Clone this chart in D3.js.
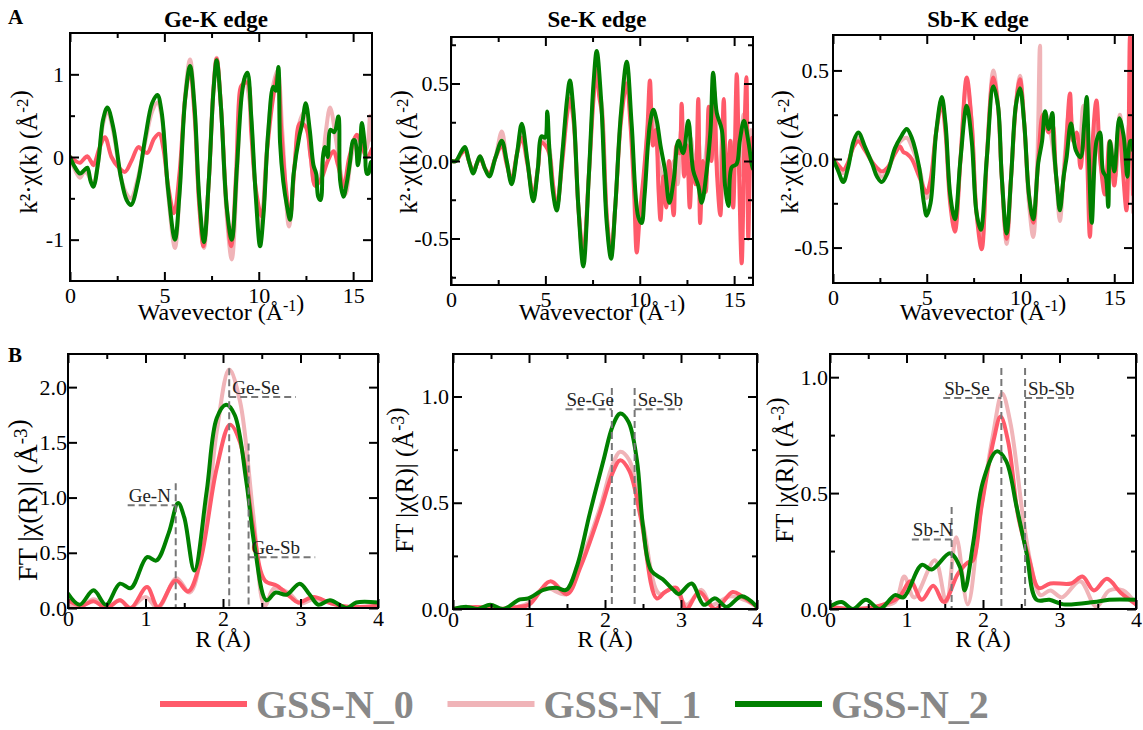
<!DOCTYPE html>
<html><head><meta charset="utf-8">
<script src="https://cdn.jsdelivr.net/npm/d3@7"></script>
<style>body{margin:0;background:#fff}svg{display:block}</style>
</head><body><svg id="c" width="1143" height="730"></svg>
<script>
// ---------------- DATA ----------------
const seriesNames = ["GSS-N_0", "GSS-N_1", "GSS-N_2"];
const seriesColors = ["#ff5a6a", "#f0b4b8", "#008000"];
const panelTitles = ["Ge-K edge", "Se-K edge", "Sb-K edge"];

// Ge-K edge k^2 chi(k)  [k, value]
const geK_N0 = [[0,0],[0.3,-0.05],[0.53,-0.07],[0.75,-0.02],[0.92,0.01],[1.1,-0.05],[1.24,-0.1],[1.55,0.1],[1.85,0.24],[2.2,0.0],[2.55,-0.12],[2.91,-0.18],[3.25,-0.05],[3.62,0.12],[3.85,0.08],[4.1,0.05],[4.45,0.22],[4.73,0.28],[4.95,0.1],[5.2,-0.35],[5.51,-0.68],[5.8,-0.2],[6.1,0.7],[6.36,1.05],[6.6,0.5],[6.85,-0.6],[7.07,-1.08],[7.35,-0.3],[7.6,0.8],[7.77,1.19],[8.0,0.6],[8.3,-0.6],[8.54,-1.08],[8.8,-0.2],[9.0,0.8],[9.1,0.87],[9.4,0.9],[9.6,0.3],[9.85,-0.4],[10.16,-0.72],[10.45,0.1],[10.75,0.7],[11.0,1.0],[11.2,0.3],[11.45,-0.4],[11.66,-0.72],[11.9,-0.1],[12.19,0.41],[12.5,0.36],[12.75,0.0],[13.0,-0.35],[13.34,-0.25],[13.65,-0.05],[13.96,0.07],[14.2,-0.1],[14.5,-0.35],[14.8,0.0],[15.2,0.27],[15.45,0.15],[15.72,0.0],[16,0.1]];
const geK_N1 = [[0,0],[0.25,-0.15],[0.53,-0.25],[0.75,-0.18],[0.92,-0.2],[1.1,-0.28],[1.24,-0.32],[1.5,-0.05],[1.75,0.4],[1.98,0.56],[2.3,0.3],[2.7,-0.25],[3.0,-0.45],[3.23,-0.5],[3.6,-0.25],[4.0,0.2],[4.35,0.55],[4.63,0.66],[4.85,0.5],[5.2,-0.45],[5.56,-1.1],[5.8,-0.45],[6.1,0.75],[6.36,1.18],[6.6,0.6],[6.85,-0.55],[7.1,-1.1],[7.35,-0.3],[7.6,0.85],[7.77,1.2],[8.0,0.6],[8.3,-0.7],[8.57,-1.24],[8.85,-0.2],[9.1,0.8],[9.27,0.95],[9.5,0.7],[9.8,-0.3],[10.1,-0.9],[10.4,0.0],[10.75,0.85],[11.0,1.05],[11.25,0.3],[11.6,-0.84],[11.9,-0.1],[12.2,0.45],[12.45,0.55],[12.75,0.0],[13.0,-0.35],[13.3,-0.2],[13.55,0.3],[13.78,0.6],[14.1,0.2],[14.35,-0.2],[14.6,-0.45],[14.9,0.0],[15.2,0.25],[15.5,0.1],[15.7,0.1],[15.9,0.5],[16,0.2]];
const geK_N2 = [[0,0],[0.25,-0.12],[0.53,-0.2],[0.75,-0.16],[0.92,-0.13],[1.1,-0.3],[1.24,-0.36],[1.5,-0.05],[1.75,0.45],[1.98,0.6],[2.3,0.35],[2.7,-0.25],[3.0,-0.52],[3.23,-0.58],[3.6,-0.3],[4.0,0.25],[4.35,0.65],[4.63,0.75],[4.85,0.55],[5.2,-0.4],[5.56,-1.0],[5.8,-0.45],[6.1,0.7],[6.36,1.1],[6.6,0.6],[6.85,-0.5],[7.1,-1.03],[7.35,-0.3],[7.6,0.8],[7.77,1.17],[8.0,0.6],[8.3,-0.6],[8.57,-1.0],[8.85,-0.1],[9.1,0.75],[9.27,0.97],[9.4,1.02],[9.6,0.5],[9.85,-0.5],[10.07,-1.08],[10.25,-0.7],[10.5,0.3],[10.77,0.85],[10.9,0.8],[11.04,1.09],[11.13,0.17],[11.3,-0.3],[11.5,-0.6],[11.66,-0.76],[11.85,-0.2],[12.15,0.25],[12.3,0.4],[12.49,0.65],[12.7,0.33],[12.9,-0.1],[13.04,-0.2],[13.15,-0.48],[13.28,-0.52],[13.4,0.0],[13.51,0.12],[13.65,0.0],[13.8,0.33],[14.0,0.3],[14.22,0.49],[14.31,-0.28],[14.49,-0.48],[14.66,-0.32],[14.84,-0.05],[15.0,0.2],[15.1,0.2],[15.25,-0.1],[15.37,0.1],[15.46,0.41],[15.63,0.12],[15.72,-0.2],[15.81,-0.2],[15.94,-0.06],[16,-0.1]];

// Se-K edge
const seK_N0 = [[0,0],[0.26,0],[0.5,0.04],[0.74,0.07],[0.95,0.0],[1.18,-0.07],[1.36,-0.02],[1.54,0.02],[1.8,-0.05],[2.03,-0.08],[2.35,0.02],[2.69,0.1],[2.95,-0.02],[3.21,-0.12],[3.5,0.05],[3.75,0.15],[4.05,-0.02],[4.36,-0.22],[4.6,-0.05],[4.8,0.12],[5.0,0.1],[5.2,0.05],[5.4,-0.15],[5.6,-0.3],[5.9,0.0],[6.15,0.3],[6.3,0.4],[6.5,0.25],[6.75,-0.3],[7.01,-0.6],[7.3,-0.1],[7.55,0.4],[7.72,0.6],[7.85,0.42],[8.0,0.3],[8.25,-0.35],[8.48,-0.6],[8.7,-0.3],[9.0,0.25],[9.31,0.5],[9.5,0.25],[9.7,-0.2],[9.84,-0.59],[10.0,-0.35],[10.2,-0.1],[10.4,0.2],[10.54,0.52],[10.7,0.1],[10.85,0.2],[11.0,-0.2],[11.1,-0.38],[11.25,-0.1],[11.4,-0.3],[11.55,0.0],[11.8,-0.35],[11.95,0.1],[12.1,0.05],[12.22,0.37],[12.35,-0.1],[12.5,0.1],[12.65,-0.3],[12.8,0.0],[12.95,-0.15],[13.1,0.4],[13.2,-0.4],[13.35,0.0],[13.5,-0.2],[13.65,0.35],[13.8,0.0],[13.95,0.45],[14.1,-0.1],[14.27,-0.35],[14.45,0.4],[14.6,-0.2],[14.8,0.13],[14.95,-0.3],[15.14,0.56],[15.25,0.0],[15.4,-0.66],[15.55,0.2],[15.65,0.54],[15.75,-0.5],[15.85,0.0],[15.95,0.15],[16,0.0]];
const seK_N1 = [[0,0],[0.26,0],[0.5,0.04],[0.74,0.08],[0.95,0.0],[1.18,-0.07],[1.36,-0.02],[1.54,0.03],[1.8,-0.05],[2.03,-0.09],[2.35,0.02],[2.69,0.19],[2.95,0.0],[3.21,-0.13],[3.5,0.05],[3.75,0.2],[4.05,0.0],[4.36,-0.24],[4.6,-0.05],[4.8,0.14],[5.0,0.12],[5.2,0.08],[5.4,-0.15],[5.6,-0.3],[5.9,0.05],[6.15,0.35],[6.3,0.47],[6.5,0.3],[6.75,-0.3],[7.01,-0.62],[7.3,-0.1],[7.55,0.45],[7.72,0.65],[7.85,0.45],[8.0,0.35],[8.25,-0.35],[8.48,-0.6],[8.7,-0.3],[9.0,0.3],[9.31,0.58],[9.55,0.2],[9.9,-0.38],[10.1,-0.3],[10.3,0.0],[10.55,0.3],[10.75,0.25],[11.0,0.0],[11.3,-0.15],[11.55,-0.25],[11.8,0.0],[12.0,-0.15],[12.2,0.2],[12.45,0.0],[12.7,0.15],[12.9,-0.1],[13.1,0.15],[13.3,-0.2],[13.55,0.1],[13.8,0.3],[14.0,0.1],[14.2,-0.15],[14.4,0.2],[14.6,-0.2],[14.85,0.05],[15.1,0.15],[15.3,-0.1],[15.5,0.3],[15.75,0.0],[15.9,0.2],[16,0.0]];
const seK_N2 = [[0,0],[0.26,0],[0.5,0.05],[0.74,0.09],[0.95,0.0],[1.18,-0.08],[1.36,-0.02],[1.54,0.03],[1.8,-0.05],[2.03,-0.1],[2.35,0.02],[2.69,0.13],[2.95,0.0],[3.21,-0.15],[3.5,0.05],[3.75,0.24],[4.05,0.0],[4.36,-0.26],[4.6,-0.05],[4.8,0.16],[4.98,0.15],[5.1,0.32],[5.2,0.1],[5.4,-0.2],[5.6,-0.32],[5.9,0.05],[6.15,0.4],[6.3,0.52],[6.5,0.3],[6.75,-0.3],[7.01,-0.68],[7.3,-0.1],[7.55,0.5],[7.72,0.71],[7.95,0.4],[8.25,-0.4],[8.48,-0.63],[8.7,-0.3],[9.0,0.3],[9.31,0.64],[9.57,0.24],[9.92,-0.36],[10.1,-0.4],[10.25,-0.23],[10.54,0.24],[10.72,0.33],[10.9,0.26],[11.1,0.1],[11.34,-0.06],[11.57,-0.27],[11.8,-0.12],[12.05,0.13],[12.3,0.05],[12.57,0.26],[12.83,-0.06],[13.1,-0.16],[13.28,-0.27],[13.55,-0.06],[13.75,0.2],[13.89,0.57],[14.08,0.31],[14.35,0.2],[14.52,-0.16],[14.7,-0.29],[14.87,-0.04],[15.13,-0.02],[15.3,0.13],[15.52,0.26],[15.75,0.13],[15.93,-0.02],[16,-0.05]];

// Sb-K edge
const sbK_N0 = [[0,0],[0.25,-0.03],[0.55,-0.06],[0.8,-0.02],[1.1,0.07],[1.35,0.1],[1.7,0.05],[2.1,-0.02],[2.35,-0.05],[2.6,-0.07],[2.9,-0.05],[3.3,0.03],[3.57,0.07],[3.75,0.04],[3.93,0.03],[4.2,0.0],[4.6,-0.1],[4.99,-0.19],[5.2,-0.12],[5.5,0.15],[5.8,0.31],[6.0,0.15],[6.25,-0.25],[6.5,-0.41],[6.8,0.0],[7.13,0.46],[7.4,0.2],[7.65,-0.3],[7.93,-0.51],[8.2,0.0],[8.55,0.46],[8.8,0.3],[9.0,-0.1],[9.26,-0.45],[9.5,-0.1],[9.75,0.3],[9.97,0.45],[10.2,0.2],[10.45,-0.2],[10.68,-0.36],[10.95,0.0],[11.2,0.25],[11.5,0.15],[11.7,0.2],[11.9,-0.1],[12.1,-0.25],[12.35,-0.05],[12.64,0.37],[12.8,0.1],[13.0,0.15],[13.2,-0.05],[13.45,0.2],[13.7,-0.44],[13.85,0.1],[14.05,0.33],[14.25,0.0],[14.5,-0.2],[14.75,0.1],[15.0,-0.15],[15.25,0.2],[15.45,-0.05],[15.65,-0.29],[15.75,0.0],[15.84,0.69],[15.95,0.3],[16,-0.2]];
const sbK_N1 = [[0,0],[0.25,-0.04],[0.55,-0.08],[0.8,-0.03],[1.1,0.08],[1.35,0.12],[1.7,0.06],[2.1,-0.02],[2.35,-0.07],[2.6,-0.1],[2.9,-0.07],[3.3,0.04],[3.6,0.1],[3.93,0.12],[4.2,0.07],[4.6,-0.05],[4.99,-0.22],[5.2,-0.15],[5.5,0.15],[5.8,0.33],[6.0,0.18],[6.25,-0.22],[6.5,-0.38],[6.8,0.0],[7.13,0.43],[7.4,0.2],[7.65,-0.3],[7.93,-0.47],[8.2,0.0],[8.55,0.5],[8.8,0.3],[9.0,-0.1],[9.26,-0.48],[9.5,-0.1],[9.75,0.3],[9.97,0.47],[10.2,0.2],[10.45,-0.25],[10.68,-0.44],[10.9,0.0],[11.04,0.64],[11.15,0.2],[11.35,0.25],[11.6,0.15],[11.9,-0.1],[12.1,-0.35],[12.35,0.0],[12.64,0.3],[12.85,0.1],[13.1,0.05],[13.35,0.3],[13.6,0.0],[13.8,-0.3],[14.05,0.2],[14.3,-0.05],[14.55,-0.2],[14.8,0.1],[15.05,-0.1],[15.3,0.25],[15.55,0.0],[15.8,0.2],[16,-0.3]];
const sbK_N2 = [[0,0],[0.25,-0.06],[0.55,-0.13],[0.8,-0.05],[1.1,0.1],[1.35,0.15],[1.7,0.07],[2.1,-0.03],[2.35,-0.1],[2.6,-0.13],[2.9,-0.08],[3.3,0.06],[3.65,0.13],[3.93,0.17],[4.2,0.12],[4.6,-0.05],[4.85,-0.25],[4.99,-0.32],[5.2,-0.25],[5.5,0.15],[5.8,0.35],[6.0,0.2],[6.25,-0.2],[6.5,-0.34],[6.8,0.0],[7.13,0.3],[7.4,0.1],[7.65,-0.3],[7.88,-0.4],[8.2,0.0],[8.55,0.41],[8.8,0.3],[9.0,-0.1],[9.26,-0.42],[9.5,-0.1],[9.75,0.3],[9.97,0.4],[10.2,0.2],[10.45,-0.2],[10.68,-0.34],[10.95,-0.02],[11.15,0.1],[11.31,0.27],[11.5,0.17],[11.7,0.26],[11.76,0.1],[11.95,-0.15],[12.1,-0.29],[12.3,-0.1],[12.46,0.01],[12.69,0.2],[12.95,0.05],[13.2,0.01],[13.4,0.2],[13.53,0.35],[13.65,0.0],[13.8,-0.36],[14.05,0.1],[14.24,0.15],[14.4,-0.07],[14.55,-0.1],[14.68,-0.27],[14.77,0.1],[15.0,-0.07],[15.27,0.23],[15.5,0.13],[15.7,-0.1],[15.85,0.1],[15.95,0.1],[16,0.05]];

// Fourier transforms |chi(R)|  [R, value]
const geFT_N0 = [[0,0.07],[0.17,0.02],[0.33,0.06],[0.5,0.0],[0.67,0.07],[0.81,0.0],[1.02,0.19],[1.16,0.01],[1.39,0.25],[1.55,0.15],[1.7,0.4],[1.92,1.27],[2.09,1.66],[2.22,1.5],[2.39,0.73],[2.54,0.25],[2.7,0.2],[2.87,0.1],[2.97,0.05],[3.17,0.1],[3.4,0.04],[3.65,0.01],[4,0.02]];
const geFT_N1 = [[0,0.04],[0.15,0.0],[0.33,0.08],[0.5,0.01],[0.67,0.07],[0.8,0.0],[1.0,0.1],[1.16,0.0],[1.4,0.27],[1.57,0.14],[1.75,0.61],[1.92,1.6],[2.08,2.16],[2.22,1.87],[2.39,0.85],[2.54,0.02],[2.66,0.18],[2.84,0.14],[3.0,0.04],[3.17,0.08],[3.4,0.05],[3.65,0.0],[4,0.02]];
const geFT_N2 = [[0,0.13],[0.15,0.03],[0.33,0.16],[0.49,0.03],[0.67,0.22],[0.81,0.18],[1.02,0.46],[1.14,0.43],[1.3,0.68],[1.42,0.95],[1.5,0.82],[1.63,0.34],[1.79,1.06],[1.92,1.72],[2.04,1.84],[2.15,1.75],[2.3,1.15],[2.41,0.55],[2.56,0.07],[2.68,0.14],[2.82,0.12],[2.99,0.22],[3.12,0.12],[3.23,0.03],[3.38,0.07],[3.6,0.0],[3.72,0.05],[4,0.05]];
const seFT_N0 = [[0,0.0],[0.3,0.01],[0.6,0.0],[0.85,0.01],[1.0,0.02],[1.28,0.13],[1.5,0.07],[1.68,0.2],[1.93,0.45],[2.1,0.64],[2.2,0.7],[2.32,0.65],[2.47,0.43],[2.68,0.05],[2.79,0.08],[2.94,0.1],[3.07,0.0],[3.24,0.08],[3.45,0.0],[3.68,0.08],[3.8,0.06],[4,0.01]];
const seFT_N1 = [[0,0.0],[0.3,0.01],[0.6,0.0],[0.85,0.01],[1.0,0.03],[1.2,0.1],[1.5,0.07],[1.68,0.22],[1.93,0.47],[2.1,0.68],[2.2,0.74],[2.32,0.7],[2.5,0.4],[2.72,0.07],[2.9,0.1],[3.07,0.02],[3.27,0.09],[3.4,0.02],[3.65,0.06],[3.85,0.04],[4,0.01]];
const seFT_N2 = [[0,0.0],[0.18,0.01],[0.33,0.0],[0.49,0.02],[0.66,0.0],[0.88,0.045],[0.99,0.05],[1.19,0.09],[1.36,0.1],[1.49,0.09],[1.63,0.2],[1.8,0.45],[1.98,0.7],[2.1,0.86],[2.2,0.92],[2.31,0.88],[2.42,0.7],[2.5,0.39],[2.61,0.18],[2.76,0.14],[2.9,0.09],[2.97,0.07],[3.14,0.12],[3.3,0.02],[3.45,0.05],[3.6,0.01],[3.8,0.06],[4,0.01]];
const sbFT_N0 = [[0,0.01],[0.3,0.0],[0.6,0.01],[0.9,0.05],[1.05,0.12],[1.2,0.04],[1.35,0.1],[1.49,0.03],[1.67,0.15],[1.8,0.2],[1.87,0.21],[1.98,0.44],[2.14,0.73],[2.23,0.83],[2.33,0.72],[2.46,0.4],[2.6,0.22],[2.73,0.09],[2.88,0.11],[3.15,0.11],[3.3,0.14],[3.45,0.08],[3.62,0.13],[3.8,0.07],[4,0.02]];
const sbFT_N1 = [[0,0.01],[0.3,0.0],[0.6,0.01],[0.85,0.03],[0.97,0.14],[1.1,0.05],[1.37,0.21],[1.52,0.03],[1.65,0.31],[1.8,0.02],[1.96,0.4],[2.13,0.75],[2.25,0.93],[2.36,0.8],[2.53,0.38],[2.64,0.17],[2.75,0.06],[2.88,0.08],[3.03,0.05],[3.27,0.12],[3.48,0.01],[3.65,0.08],[3.83,0.08],[4,0.02]];
const sbFT_N2 = [[0,0.01],[0.15,0.03],[0.3,0.0],[0.47,0.04],[0.65,0.0],[0.85,0.06],[0.96,0.05],[1.2,0.19],[1.33,0.17],[1.57,0.24],[1.7,0.18],[1.76,0.08],[1.87,0.28],[2.0,0.55],[2.18,0.68],[2.3,0.64],[2.44,0.44],[2.57,0.24],[2.7,0.04],[2.87,0.04],[3.05,0.02],[3.45,0.03],[3.65,0.04],[4,0.04]];

// axis ticks
const kTicksMajor = [0, 5, 10, 15];
const kTicksMinor = [2.5, 7.5, 12.5];
const rTicksMajor = [0, 1, 2, 3, 4];
const rTicksMinor = [0.5, 1.5, 2.5, 3.5];
const geKYMajor = [-1, 0, 1];
const geKYMinor = [-0.5, 0.5];
const seKYMajor = [-0.5, 0, 0.5];
const seKYMinor = [-0.75, -0.25, 0.25, 0.75];
const sbKYMajor = [-0.5, 0, 0.5];
const sbKYMinor = [-0.25, 0.25];
const geFTYMajor = [0, 0.5, 1, 1.5, 2];
const seFTYMajor = [0, 0.5, 1];
const seFTYMinor = [0.25, 0.75];
const sbFTYMajor = [0, 0.5, 1];
const sbFTYMinor = [0.25, 0.75];

// bond annotations: [label, R of marker line, top of marker, height of label line, R start, R end]
const geBonds = [["Ge-N", 1.39, 1.13, 0.93, 0.77, 1.39], ["Ge-Se", 2.08, 2.17, 1.91, 2.08, 2.94], ["Ge-Sb", 2.33, 1.49, 0.46, 2.33, 3.19]];
const seBonds = [["Se-Ge", 2.09, 1.04, 0.94, 1.48, 2.09], ["Se-Sb", 2.39, 1.04, 0.94, 2.39, 3.0]];
const sbBonds = [["Sb-N", 1.59, 0.44, 0.30, 1.07, 1.59], ["Sb-Se", 2.24, 1.04, 0.91, 1.48, 2.24], ["Sb-Sb", 2.55, 1.04, 0.91, 2.55, 3.18]];

// ---------------- DRAW ----------------
const svg = d3.select("#c");
const FONT = "'Liberation Serif','Times New Roman',serif";
let clipId = 0;

function addLabel(g, parts, attrs) {
  const t = g.append("text").attr("font-family", FONT);
  for (const k in attrs) t.attr(k, attrs[k]);
  parts.forEach(p => {
    if (p.sup) {
      t.append("tspan").attr("dy", -p.shift).attr("font-size", p.size).text(p.sup);
      t.append("tspan").attr("dy", p.shift).text("");
    } else t.append("tspan").text(p.t);
  });
  return t;
}

function panel(p) {
  const g = svg.append("g");
  const x = d3.scaleLinear().domain(p.xDomain).range([p.l, p.r]);
  const y = d3.scaleLinear().domain(p.yDomain).range([p.b, p.t]);
  const id = "clip" + (clipId++);
  svg.append("clipPath").attr("id", id).append("rect")
    .attr("x", p.l).attr("y", p.t).attr("width", p.r - p.l).attr("height", p.b - p.t);

  const line = d3.line().x(d => x(d[0])).y(d => y(d[1])).curve(d3.curveCatmullRom.alpha(0.5));
  const lg = g.append("g").attr("clip-path", `url(#${id})`);
  [1, 0, 2].forEach(i => {
    lg.append("path").datum(p.series[i]).attr("d", line)
      .attr("fill", "none").attr("stroke", seriesColors[i]).attr("stroke-width", 4)
      .attr("stroke-linejoin", "round").attr("stroke-linecap", "round");
  });

  if (p.bonds) {
    const ag = g.append("g");
    p.bonds.forEach(b => {
      ag.append("line").attr("x1", x(b[1])).attr("x2", x(b[1])).attr("y1", y(b[2])).attr("y2", y(0))
        .attr("stroke", "#777").attr("stroke-width", 2).attr("stroke-dasharray", "7,4");
      ag.append("line").attr("x1", x(b[4])).attr("x2", x(b[5])).attr("y1", y(b[3])).attr("y2", y(b[3]))
        .attr("stroke", "#777").attr("stroke-width", 2).attr("stroke-dasharray", "7,4");
      const right = b[4] >= b[1] - 1e-9;
      ag.append("text").attr("font-family", FONT).attr("font-size", 19).attr("fill", "#222")
        .attr("x", right ? x(b[4]) + 3 : x(b[4]) + 1).attr("y", y(b[3]) - 3).text(b[0]);
    });
  }

  g.append("rect").attr("x", p.l).attr("y", p.t).attr("width", p.r - p.l).attr("height", p.b - p.t)
    .attr("fill", "none").attr("stroke", "#000").attr("stroke-width", 2);

  const styleAxis = (sel) => { sel.attr("font-family", FONT); sel.select(".domain").remove(); sel.selectAll("line").attr("stroke", "#000").attr("stroke-width", 2); sel.selectAll("text").attr("font-family", FONT).attr("font-size", p.tickFont).attr("fill", "#000"); };
  const fmtX = d => d.toFixed(p.xDec);
  const fmtY = d => d.toFixed(p.yDec);

  g.append("g").attr("transform", `translate(0,${p.b})`)
    .call(d3.axisBottom(x).tickValues(p.xMajor).tickSize(-9).tickPadding(p.xPad).tickFormat(fmtX)).call(styleAxis);
  g.append("g").attr("transform", `translate(0,${p.b})`)
    .call(d3.axisBottom(x).tickValues(p.xMinor).tickSize(-5).tickFormat("")).call(styleAxis);
  g.append("g").attr("transform", `translate(0,${p.t})`)
    .call(d3.axisTop(x).tickValues(p.xMajor).tickSize(-9).tickFormat("")).call(styleAxis);
  g.append("g").attr("transform", `translate(0,${p.t})`)
    .call(d3.axisTop(x).tickValues(p.xMinor).tickSize(-5).tickFormat("")).call(styleAxis);
  g.append("g").attr("transform", `translate(${p.l},0)`)
    .call(d3.axisLeft(y).tickValues(p.yMajor).tickSize(-9).tickPadding(p.yPad).tickFormat(fmtY)).call(styleAxis);
  g.append("g").attr("transform", `translate(${p.r},0)`)
    .call(d3.axisRight(y).tickValues(p.yMajor).tickSize(-9).tickFormat("")).call(styleAxis);
  if (p.yMinor.length) {
    g.append("g").attr("transform", `translate(${p.l},0)`)
      .call(d3.axisLeft(y).tickValues(p.yMinor).tickSize(-5).tickFormat("")).call(styleAxis);
    g.append("g").attr("transform", `translate(${p.r},0)`)
      .call(d3.axisRight(y).tickValues(p.yMinor).tickSize(-5).tickFormat("")).call(styleAxis);
  }

  addLabel(g, p.xLabel, { "x": (p.l + p.r) / 2, "y": p.xLabelY, "text-anchor": "middle", "font-size": p.xLabelFont, "fill": "#000" });
  addLabel(g, p.yLabel, { "transform": `translate(${p.yLabelX},${p.yLabelY}) rotate(-90)`, "text-anchor": "middle", "dy": "0.35em", "font-size": p.yLabelFont, "fill": "#000" });
  if (p.title) {
    g.append("text").attr("font-family", FONT).attr("font-weight", "bold").attr("font-size", 23)
      .attr("x", (p.l + p.r) / 2 - 5).attr("y", 27).attr("text-anchor", "middle").text(p.title);
  }
}

const kLabel = [{ t: "Wavevector (Å" }, { sup: "-1", size: 16, shift: 9 }, { t: ")" }];
const rLabel = [{ t: "R (Å)" }];
const kyLabel = [{ t: "k²·χ(k) (Å" }, { sup: "-2", size: 17, shift: 9 }, { t: ")" }];
const ryLabelBig = [{ t: "FT |χ(R)| (Å" }, { sup: "-3", size: 19, shift: 10 }, { t: ")" }];
const ryLabel = [{ t: "FT |χ(R)| (Å" }, { sup: "-3", size: 18, shift: 9 }, { t: ")" }];

const topCommon = { xDomain: [0, 16], xMajor: kTicksMajor, xMinor: kTicksMinor, xDec: 0, xPad: 6, tickFont: 22, xLabel: kLabel, xLabelY: 320, xLabelFont: 24, yLabel: kyLabel, yLabelFont: 25, yLabelY: 152 };
const botCommon = { xDomain: [0, 4], xMajor: rTicksMajor, xMinor: rTicksMinor, xDec: 0, xPad: 2, tickFont: 22, xLabel: rLabel, xLabelY: 647, xLabelFont: 24, yDec: 1 };

panel(Object.assign({}, topCommon, { l: 70, r: 372, t: 33, b: 281, yDomain: [-1.5, 1.5], yMajor: geKYMajor, yMinor: geKYMinor, yDec: 0, yPad: 6, series: [geK_N0, geK_N1, geK_N2], yLabelX: 28, title: panelTitles[0] }));
panel(Object.assign({}, topCommon, { l: 451, r: 753, t: 37, b: 285, yDomain: [-0.8, 0.8], yMajor: seKYMajor, yMinor: seKYMinor, yDec: 1, yPad: 2, series: [seK_N0, seK_N1, seK_N2], yLabelX: 408, title: panelTitles[1] }));
panel(Object.assign({}, topCommon, { l: 833, r: 1133, t: 35, b: 283, yDomain: [-0.7, 0.7], yMajor: sbKYMajor, yMinor: sbKYMinor, yDec: 1, yPad: 4, series: [sbK_N0, sbK_N1, sbK_N2], yLabelX: 789, title: panelTitles[2] }));

panel(Object.assign({}, botCommon, { l: 68, r: 378, t: 354, b: 608, yDomain: [0, 2.3], yMajor: geFTYMajor, yMinor: [], yPad: 1, series: [geFT_N0, geFT_N1, geFT_N2], yLabel: ryLabelBig, yLabelFont: 28, yLabelX: 27, yLabelY: 500, bonds: geBonds }));
panel(Object.assign({}, botCommon, { l: 453, r: 757, t: 354, b: 609, yDomain: [0, 1.2], yMajor: seFTYMajor, yMinor: seFTYMinor, yPad: 4, series: [seFT_N0, seFT_N1, seFT_N2], yLabel: ryLabel, yLabelFont: 25, yLabelX: 404, yLabelY: 480, bonds: seBonds }));
panel(Object.assign({}, botCommon, { l: 830, r: 1136, t: 354, b: 609, yDomain: [0, 1.1], yMajor: sbFTYMajor, yMinor: sbFTYMinor, yPad: 2, series: [sbFT_N0, sbFT_N1, sbFT_N2], yLabel: ryLabel, yLabelFont: 25, yLabelX: 784, yLabelY: 470, bonds: sbBonds }));

svg.append("text").attr("font-family", FONT).attr("font-weight", "bold").attr("font-size", 21).attr("x", 8).attr("y", 24).text("A");
svg.append("text").attr("font-family", FONT).attr("font-weight", "bold").attr("font-size", 21).attr("x", 8).attr("y", 362).text("B");

// legend
const legendX = d3.scalePoint().domain(seriesNames).range([160, 735]);
const lgd = svg.append("g");
seriesNames.forEach((n, i) => {
  const x0 = legendX(n);
  lgd.append("line").attr("x1", x0).attr("x2", x0 + 87).attr("y1", 704).attr("y2", 704)
    .attr("stroke", seriesColors[i]).attr("stroke-width", 6);
  lgd.append("text").attr("font-family", FONT).attr("font-weight", "bold").attr("font-size", 40)
    .attr("fill", "#888").attr("x", x0 + 96).attr("y", 718).text(n);
});
</script>
</body></html>
